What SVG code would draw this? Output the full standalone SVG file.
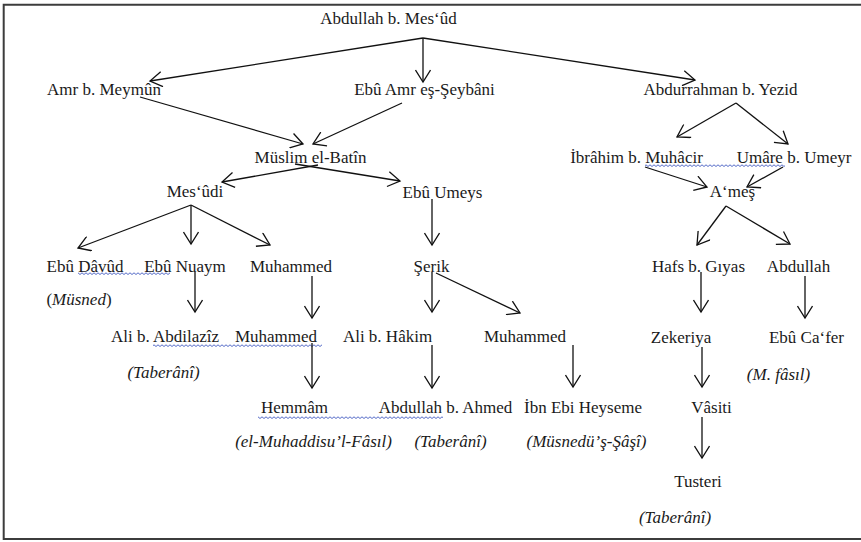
<svg xmlns="http://www.w3.org/2000/svg" width="861" height="542" viewBox="0 0 861 542">
<style>
text{font-family:"Liberation Serif","Times New Roman",serif;font-size:17px;fill:#1a1a1a;text-anchor:middle}
.it{font-style:italic}
.c line{stroke:#111;stroke-width:1.3;marker-end:url(#ah)}
.frame{stroke:#3c3c3c;stroke-width:2;fill:none}
.wv{fill:url(#wave)}
</style>
<defs>
<marker id="ah" markerUnits="userSpaceOnUse" markerWidth="16" markerHeight="16" viewBox="0 0 16 16" refX="14" refY="8" orient="auto">
<path d="M2,0.5 L14,8 L2,15.5" fill="none" stroke="#111" stroke-width="1.3"/>
</marker>
<pattern id="wave" patternUnits="userSpaceOnUse" x="0" y="0" width="4" height="4">
<path d="M0,2.5 L2,0.8 L4,2.5" fill="none" stroke="#4058c0" stroke-width="0.9"/>
</pattern>
</defs>
<rect width="861" height="542" fill="#fff"/>
<path class="frame" d="M870,4.8 H3.7 V539 H870"/>

<g id="spellcheck">
<rect class="wv" x="78" y="272" width="92" height="4"/>
<rect class="wv" x="153" y="344" width="169" height="4"/>
<rect class="wv" x="258" y="416" width="185" height="4"/>
<rect class="wv" x="645" y="164" width="140" height="4"/>
</g>

<g class="c" id="connectors">
<line x1="423" y1="38" x2="150" y2="81"/>
<line x1="423" y1="38" x2="423" y2="82"/>
<line x1="423" y1="38" x2="695" y2="80"/>
<line x1="140" y1="97" x2="303" y2="144"/>
<line x1="402" y1="103" x2="313" y2="144"/>
<line x1="318" y1="165" x2="222" y2="182"/>
<line x1="295" y1="164" x2="400" y2="181"/>
<line x1="191" y1="205" x2="78" y2="248"/>
<line x1="191" y1="205" x2="191" y2="244"/>
<line x1="191" y1="205" x2="270" y2="245"/>
<line x1="432" y1="199" x2="432" y2="245"/>
<line x1="736" y1="103" x2="677" y2="137"/>
<line x1="736" y1="103" x2="788" y2="144"/>
<line x1="645" y1="167" x2="707" y2="187"/>
<line x1="783" y1="167" x2="747" y2="187"/>
<line x1="726" y1="206" x2="697" y2="245"/>
<line x1="726" y1="206" x2="790" y2="244"/>
<line x1="195" y1="272" x2="195" y2="312"/>
<line x1="312" y1="276" x2="312" y2="318"/>
<line x1="432" y1="272" x2="432" y2="312"/>
<line x1="436" y1="273" x2="520" y2="313"/>
<line x1="701" y1="272" x2="701" y2="312"/>
<line x1="805" y1="276" x2="805" y2="318"/>
<line x1="312" y1="343" x2="312" y2="388"/>
<line x1="432" y1="345" x2="432" y2="388"/>
<line x1="573" y1="345" x2="573" y2="387"/>
<line x1="702" y1="347" x2="702" y2="387"/>
<line x1="702" y1="417" x2="702" y2="458"/>
</g>

<g id="n-abdullah-mesud"><text x="388.5" y="24">Abdullah b. Mes‘ûd</text></g>
<g id="n-amr"><text x="104" y="95">Amr b. Meymûn</text></g>
<g id="n-ebu-amr"><text x="424.5" y="95">Ebû Amr eş-Şeybâni</text></g>
<g id="n-abdurrahman"><text x="720.5" y="95">Abdurrahman b. Yezid</text></g>
<g id="n-muslim"><text x="310.5" y="163">Müslim el-Batîn</text></g>
<g id="n-ibrahim"><text x="636.5" y="163">İbrâhim b. Muhâcir</text></g>
<g id="n-umare"><text x="794" y="163">Umâre b. Umeyr</text></g>
<g id="n-mesudi"><text x="195" y="197">Mes‘ûdi</text></g>
<g id="n-ebu-umeys"><text x="442.5" y="198">Ebû Umeys</text></g>
<g id="n-ames"><text x="732.5" y="197">A‘meş</text></g>
<g id="n-ebu-davud"><text x="85" y="272">Ebû Dâvûd</text><text x="79" y="305">(<tspan class="it">Müsned</tspan>)</text></g>
<g id="n-ebu-nuaym"><text x="185" y="272">Ebû Nuaym</text></g>
<g id="n-muhammed1"><text x="291" y="272">Muhammed</text></g>
<g id="n-serik"><text x="431.5" y="272">Şerik</text></g>
<g id="n-hafs"><text x="698.5" y="272">Hafs b. Gıyas</text></g>
<g id="n-abdullah"><text x="798.5" y="272">Abdullah</text></g>
<g id="n-ali-abdilaziz"><text x="165" y="342">Ali b. Abdilazîz</text><text class="it" x="163.5" y="378">(Taberânî)</text></g>
<g id="n-muhammed2"><text x="276" y="342">Muhammed</text></g>
<g id="n-ali-hakim"><text x="387.5" y="342">Ali b. Hâkim</text></g>
<g id="n-muhammed3"><text x="525" y="342">Muhammed</text></g>
<g id="n-zekeriya"><text x="681" y="343">Zekeriya</text></g>
<g id="n-ebu-cafer"><text x="806.5" y="343">Ebû Ca‘fer</text><text class="it" x="778.5" y="380">(M. fâsıl)</text></g>
<g id="n-hemmam"><text x="294.5" y="413">Hemmâm</text><text class="it" x="313.5" y="447">(el-Muhaddisu’l-Fâsıl)</text></g>
<g id="n-abdullah-ahmed"><text x="445.5" y="413">Abdullah b. Ahmed</text><text class="it" x="450.5" y="447">(Taberânî)</text></g>
<g id="n-ibn-ebi-heyseme"><text x="583" y="413">İbn Ebi Heyseme</text><text class="it" x="586.5" y="447">(Müsnedü’ş-Şâşî)</text></g>
<g id="n-vasiti"><text x="711.5" y="413">Vâsiti</text></g>
<g id="n-tusteri"><text x="698" y="487">Tusteri</text><text class="it" x="675" y="523">(Taberânî)</text></g>
</svg>
